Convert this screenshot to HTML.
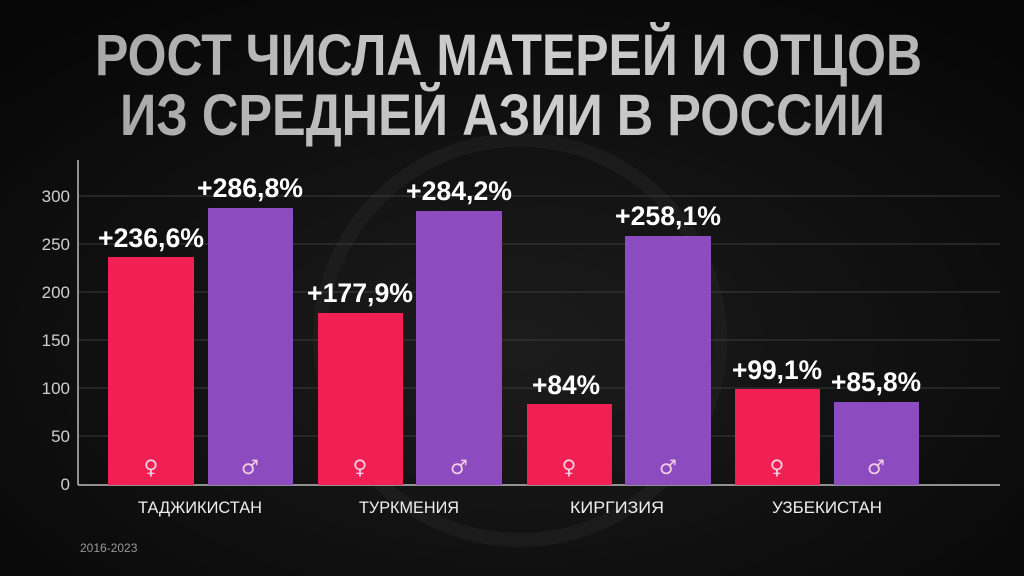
<!DOCTYPE html>
<html><head><meta charset="utf-8"><style>
html,body{margin:0;padding:0;background:#0b0b0b;}
svg{display:block}
</style></head><body>
<svg width="1024" height="576" viewBox="0 0 1024 576" xmlns="http://www.w3.org/2000/svg">
<defs>
<radialGradient id="bg" cx="0.5" cy="0.6" r="0.7">
<stop offset="0" stop-color="#1c1c1c"/><stop offset="1" stop-color="#070707"/>
</radialGradient>
<linearGradient id="tg" x1="0" y1="0" x2="1" y2="0">
<stop offset="0" stop-color="#a8a8a8"/><stop offset="0.5" stop-color="#d0d0d0"/><stop offset="1" stop-color="#b5b5b5"/>
</linearGradient>
</defs>
<rect width="1024" height="576" fill="url(#bg)"/>
<circle cx="520" cy="340" r="200" fill="none" stroke="#222" stroke-width="14" opacity="0.6"/>
<g font-family="Liberation Sans, sans-serif" font-weight="bold" fill="url(#tg)">
<text x="95" y="75" font-size="58" textLength="827" lengthAdjust="spacingAndGlyphs">РОСТ ЧИСЛА МАТЕРЕЙ И ОТЦОВ</text>
<text x="120" y="135" font-size="58" textLength="765" lengthAdjust="spacingAndGlyphs">ИЗ СРЕДНЕЙ АЗИИ В РОССИИ</text>
</g>
<g stroke="#3a3a3a" stroke-width="1">
<line x1="78" y1="196" x2="1000" y2="196"/>
<line x1="78" y1="244" x2="1000" y2="244"/>
<line x1="78" y1="292" x2="1000" y2="292"/>
<line x1="78" y1="340" x2="1000" y2="340"/>
<line x1="78" y1="388" x2="1000" y2="388"/>
<line x1="78" y1="436" x2="1000" y2="436"/>
</g>
<line x1="78" y1="160" x2="78" y2="485" stroke="#bbb" stroke-width="1.5"/>
<line x1="78" y1="485" x2="1000" y2="485" stroke="#bbb" stroke-width="1.5"/>
<g font-family="Liberation Sans, sans-serif" font-size="17" fill="#cfcfcf" text-anchor="end">
<text x="70" y="202">300</text><text x="70" y="250">250</text><text x="70" y="298">200</text>
<text x="70" y="346">150</text><text x="70" y="394">100</text><text x="70" y="442">50</text><text x="70" y="490">0</text>
</g>
<g>
<rect x="108" y="257" width="86" height="228" fill="#f21f55"/>
<rect x="208" y="208" width="85" height="277" fill="#8c4cbf"/>
<rect x="318" y="313" width="85" height="172" fill="#f21f55"/>
<rect x="416" y="211" width="86" height="274" fill="#8c4cbf"/>
<rect x="527" y="404" width="85" height="81" fill="#f21f55"/>
<rect x="625" y="236" width="86" height="249" fill="#8c4cbf"/>
<rect x="735" y="389" width="85" height="96" fill="#f21f55"/>
<rect x="834" y="402" width="85" height="83" fill="#8c4cbf"/>
</g>
<g font-family="DejaVu Sans, sans-serif" font-size="20" fill="#f0d0e0" text-anchor="middle">
<text x="151" y="474">♀</text><text x="250" y="474">♂</text>
<text x="360" y="474">♀</text><text x="459" y="474">♂</text>
<text x="569" y="474">♀</text><text x="668" y="474">♂</text>
<text x="777" y="474">♀</text><text x="876" y="474">♂</text>
</g>
<g font-family="Liberation Sans, sans-serif" font-weight="bold" font-size="27" fill="#fff" text-anchor="middle">
<text x="151" y="247" textLength="106" lengthAdjust="spacingAndGlyphs">+236,6%</text>
<text x="250" y="197" textLength="106" lengthAdjust="spacingAndGlyphs">+286,8%</text>
<text x="360" y="302" textLength="106" lengthAdjust="spacingAndGlyphs">+177,9%</text>
<text x="459" y="200" textLength="106" lengthAdjust="spacingAndGlyphs">+284,2%</text>
<text x="566" y="394" textLength="68" lengthAdjust="spacingAndGlyphs">+84%</text>
<text x="668" y="225" textLength="106" lengthAdjust="spacingAndGlyphs">+258,1%</text>
<text x="777" y="379" textLength="90" lengthAdjust="spacingAndGlyphs">+99,1%</text>
<text x="876" y="391" textLength="90" lengthAdjust="spacingAndGlyphs">+85,8%</text>
</g>
<g font-family="Liberation Sans, sans-serif" font-size="17" fill="#eee" text-anchor="middle">
<text x="200" y="513" textLength="124" lengthAdjust="spacingAndGlyphs">ТАДЖИКИСТАН</text>
<text x="409" y="513" textLength="100" lengthAdjust="spacingAndGlyphs">ТУРКМЕНИЯ</text>
<text x="617" y="513" textLength="94" lengthAdjust="spacingAndGlyphs">КИРГИЗИЯ</text>
<text x="827" y="513" textLength="110" lengthAdjust="spacingAndGlyphs">УЗБЕКИСТАН</text>
</g>
<text x="80" y="552" font-family="Liberation Sans, sans-serif" font-size="12" fill="#999">2016-2023</text>
</svg>
</body></html>
